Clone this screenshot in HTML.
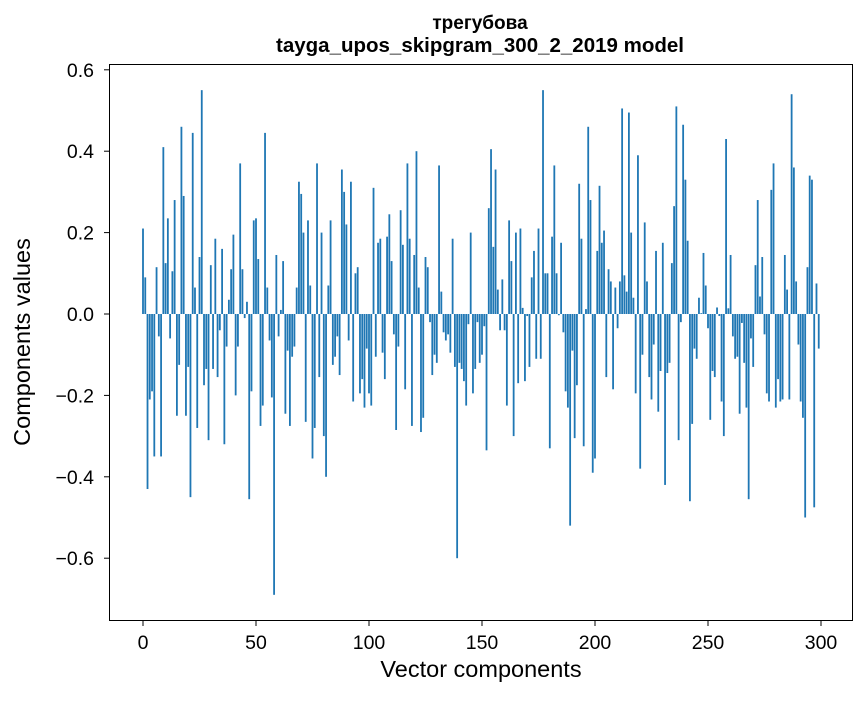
<!DOCTYPE html>
<html><head><meta charset="utf-8"><style>
body{margin:0;background:#fff;}
svg text{font-family:"Liberation Sans","DejaVu Sans",sans-serif;fill:#000;}
</style></head><body>
<svg id="chart" width="867" height="696" xmlns="http://www.w3.org/2000/svg">
<rect width="867" height="696" fill="#fff"/>
<text x="480" y="29" text-anchor="middle" font-size="19" font-weight="bold">трегубова</text>
<text x="480" y="52" text-anchor="middle" font-size="20.5" font-weight="bold">tayga_upos_skipgram_300_2_2019 model</text>
<g id="bars"></g>
<rect x="109.5" y="64.5" width="743" height="556" fill="none" stroke="#000" stroke-width="1"/>
<g id="xticks"></g>
<g id="yticks"></g>
<text x="481" y="677" text-anchor="middle" font-size="23.5">Vector components</text>
<text transform="translate(30,342) rotate(-90)" text-anchor="middle" font-size="23.5">Components values</text>
</svg>
<script>
const values = [
0.21,0.09,-0.43,-0.21,-0.19,-0.35,0.115,-0.055,-0.35,0.41,
0.125,0.235,-0.06,0.105,0.28,-0.25,-0.125,0.46,0.29,-0.25,
-0.13,-0.45,0.445,0.065,-0.28,0.14,0.55,-0.175,-0.135,-0.31,
0.12,-0.135,0.185,-0.155,-0.04,0.16,-0.32,-0.08,0.035,0.11,
0.195,-0.2,-0.08,0.37,0.11,-0.01,0.03,-0.455,-0.19,0.23,
0.235,0.135,-0.275,-0.225,0.445,0.065,-0.065,-0.205,-0.69,0.145,
-0.055,0.01,0.13,-0.245,-0.09,-0.275,-0.105,-0.08,0.065,0.325,
0.295,0.2,-0.265,0.23,0.07,-0.355,-0.28,0.37,-0.155,0.2,
-0.3,-0.4,0.07,0.23,-0.125,-0.105,-0.055,-0.15,0.355,0.3,
0.22,-0.065,0.325,-0.215,0.1,0.115,-0.195,-0.16,-0.23,-0.085,
-0.195,-0.225,0.31,-0.105,0.175,0.185,-0.095,-0.16,0.19,0.245,
0.13,-0.05,-0.285,-0.08,0.255,0.17,-0.185,0.37,0.185,-0.275,
0.145,0.4,0.065,-0.29,-0.255,0.14,0.115,-0.02,-0.15,-0.1,
-0.12,0.365,0.055,-0.045,-0.065,-0.05,-0.095,0.185,-0.13,-0.6,
-0.12,-0.135,-0.165,-0.225,-0.025,0.2,-0.195,-0.135,-0.02,-0.12,
-0.1,-0.03,-0.335,0.26,0.405,0.165,0.355,0.06,-0.04,0.085,
-0.04,-0.225,0.23,0.13,-0.3,0.2,-0.17,0.21,0.015,-0.165,
-0.005,-0.13,0.09,0.155,-0.11,0.21,-0.11,0.55,0.1,0.1,
-0.33,0.19,0.365,0.1,-0.003,0.175,-0.045,-0.19,-0.23,-0.52,
-0.09,-0.305,-0.175,0.32,0.185,-0.325,0.012,0.46,0.28,-0.39,
-0.355,0.155,0.315,0.175,0.205,-0.155,0.11,0.08,-0.185,0.065,
-0.035,0.08,0.505,0.095,0.055,0.495,0.2,0.04,-0.195,0.39,
-0.38,-0.1,0.225,0.08,-0.155,-0.21,-0.075,0.155,-0.24,-0.14,
0.175,-0.42,-0.145,-0.12,0.125,0.265,0.51,-0.31,-0.02,0.465,
0.33,0.18,-0.46,-0.27,-0.085,-0.11,0.04,0.002,0.15,0.07,
-0.035,-0.26,-0.14,-0.155,0.016,-0.005,-0.215,-0.3,0.43,0.014,
0.145,-0.055,-0.11,-0.105,-0.245,-0.022,-0.12,-0.23,-0.455,-0.06,
-0.13,0.12,0.28,0.043,0.14,-0.05,-0.195,-0.215,0.305,0.37,
-0.23,-0.16,-0.215,-0.21,0.145,0.06,-0.21,0.54,0.36,0.08,
-0.075,-0.215,-0.255,-0.5,0.115,0.34,0.33,-0.475,0.075,-0.085
];
const xTicks = [0,50,100,150,200,250,300];
const yTicks = [-0.6,-0.4,-0.2,0.0,0.2,0.4,0.6];
const NS = "http://www.w3.org/2000/svg";
function xs(v){return 143 + 2.26*v;}
function ys(v){return 314 - 407*v;}
const bars = document.getElementById('bars');
values.forEach(function(v,i){
  const r = document.createElementNS(NS,'rect');
  
  
  const y0 = ys(0), y1 = ys(v);
  r.setAttribute('x', xs(i) - 0.9);
  r.setAttribute('width', 1.8);
  r.setAttribute('y', Math.min(y0,y1));
  r.setAttribute('height', Math.max(Math.abs(y1-y0),0.3));
  r.setAttribute('fill', '#1f77b4');
  bars.appendChild(r);
});
const xg = document.getElementById('xticks');
xTicks.forEach(function(t){
  const l = document.createElementNS(NS,'line');
  
  
  l.setAttribute('x1', xs(t)); l.setAttribute('x2', xs(t));
  l.setAttribute('y1', 620.5); l.setAttribute('y2', 626);
  l.setAttribute('stroke', '#000');
  xg.appendChild(l);
  const tx = document.createElementNS(NS,'text');
  
  
  tx.setAttribute('x', xs(t)); tx.setAttribute('y', 649);
  tx.setAttribute('text-anchor', 'middle'); tx.setAttribute('font-size', '19.5');
  tx.textContent = String(t);
  xg.appendChild(tx);
});
const yg = document.getElementById('yticks');
yTicks.forEach(function(t){
  const l = document.createElementNS(NS,'line');
  
  
  l.setAttribute('x1', 104); l.setAttribute('x2', 109.5);
  l.setAttribute('y1', ys(t)); l.setAttribute('y2', ys(t));
  l.setAttribute('stroke', '#000');
  yg.appendChild(l);
  const tx = document.createElementNS(NS,'text');
  
  
  tx.setAttribute('x', 94); tx.setAttribute('y', ys(t) + 7);
  tx.setAttribute('text-anchor', 'end'); tx.setAttribute('font-size', '19.5');
  tx.textContent = (t < 0 ? '\u2212' : '') + Math.abs(t).toFixed(1);
  yg.appendChild(tx);
});
</script>
</body></html>
